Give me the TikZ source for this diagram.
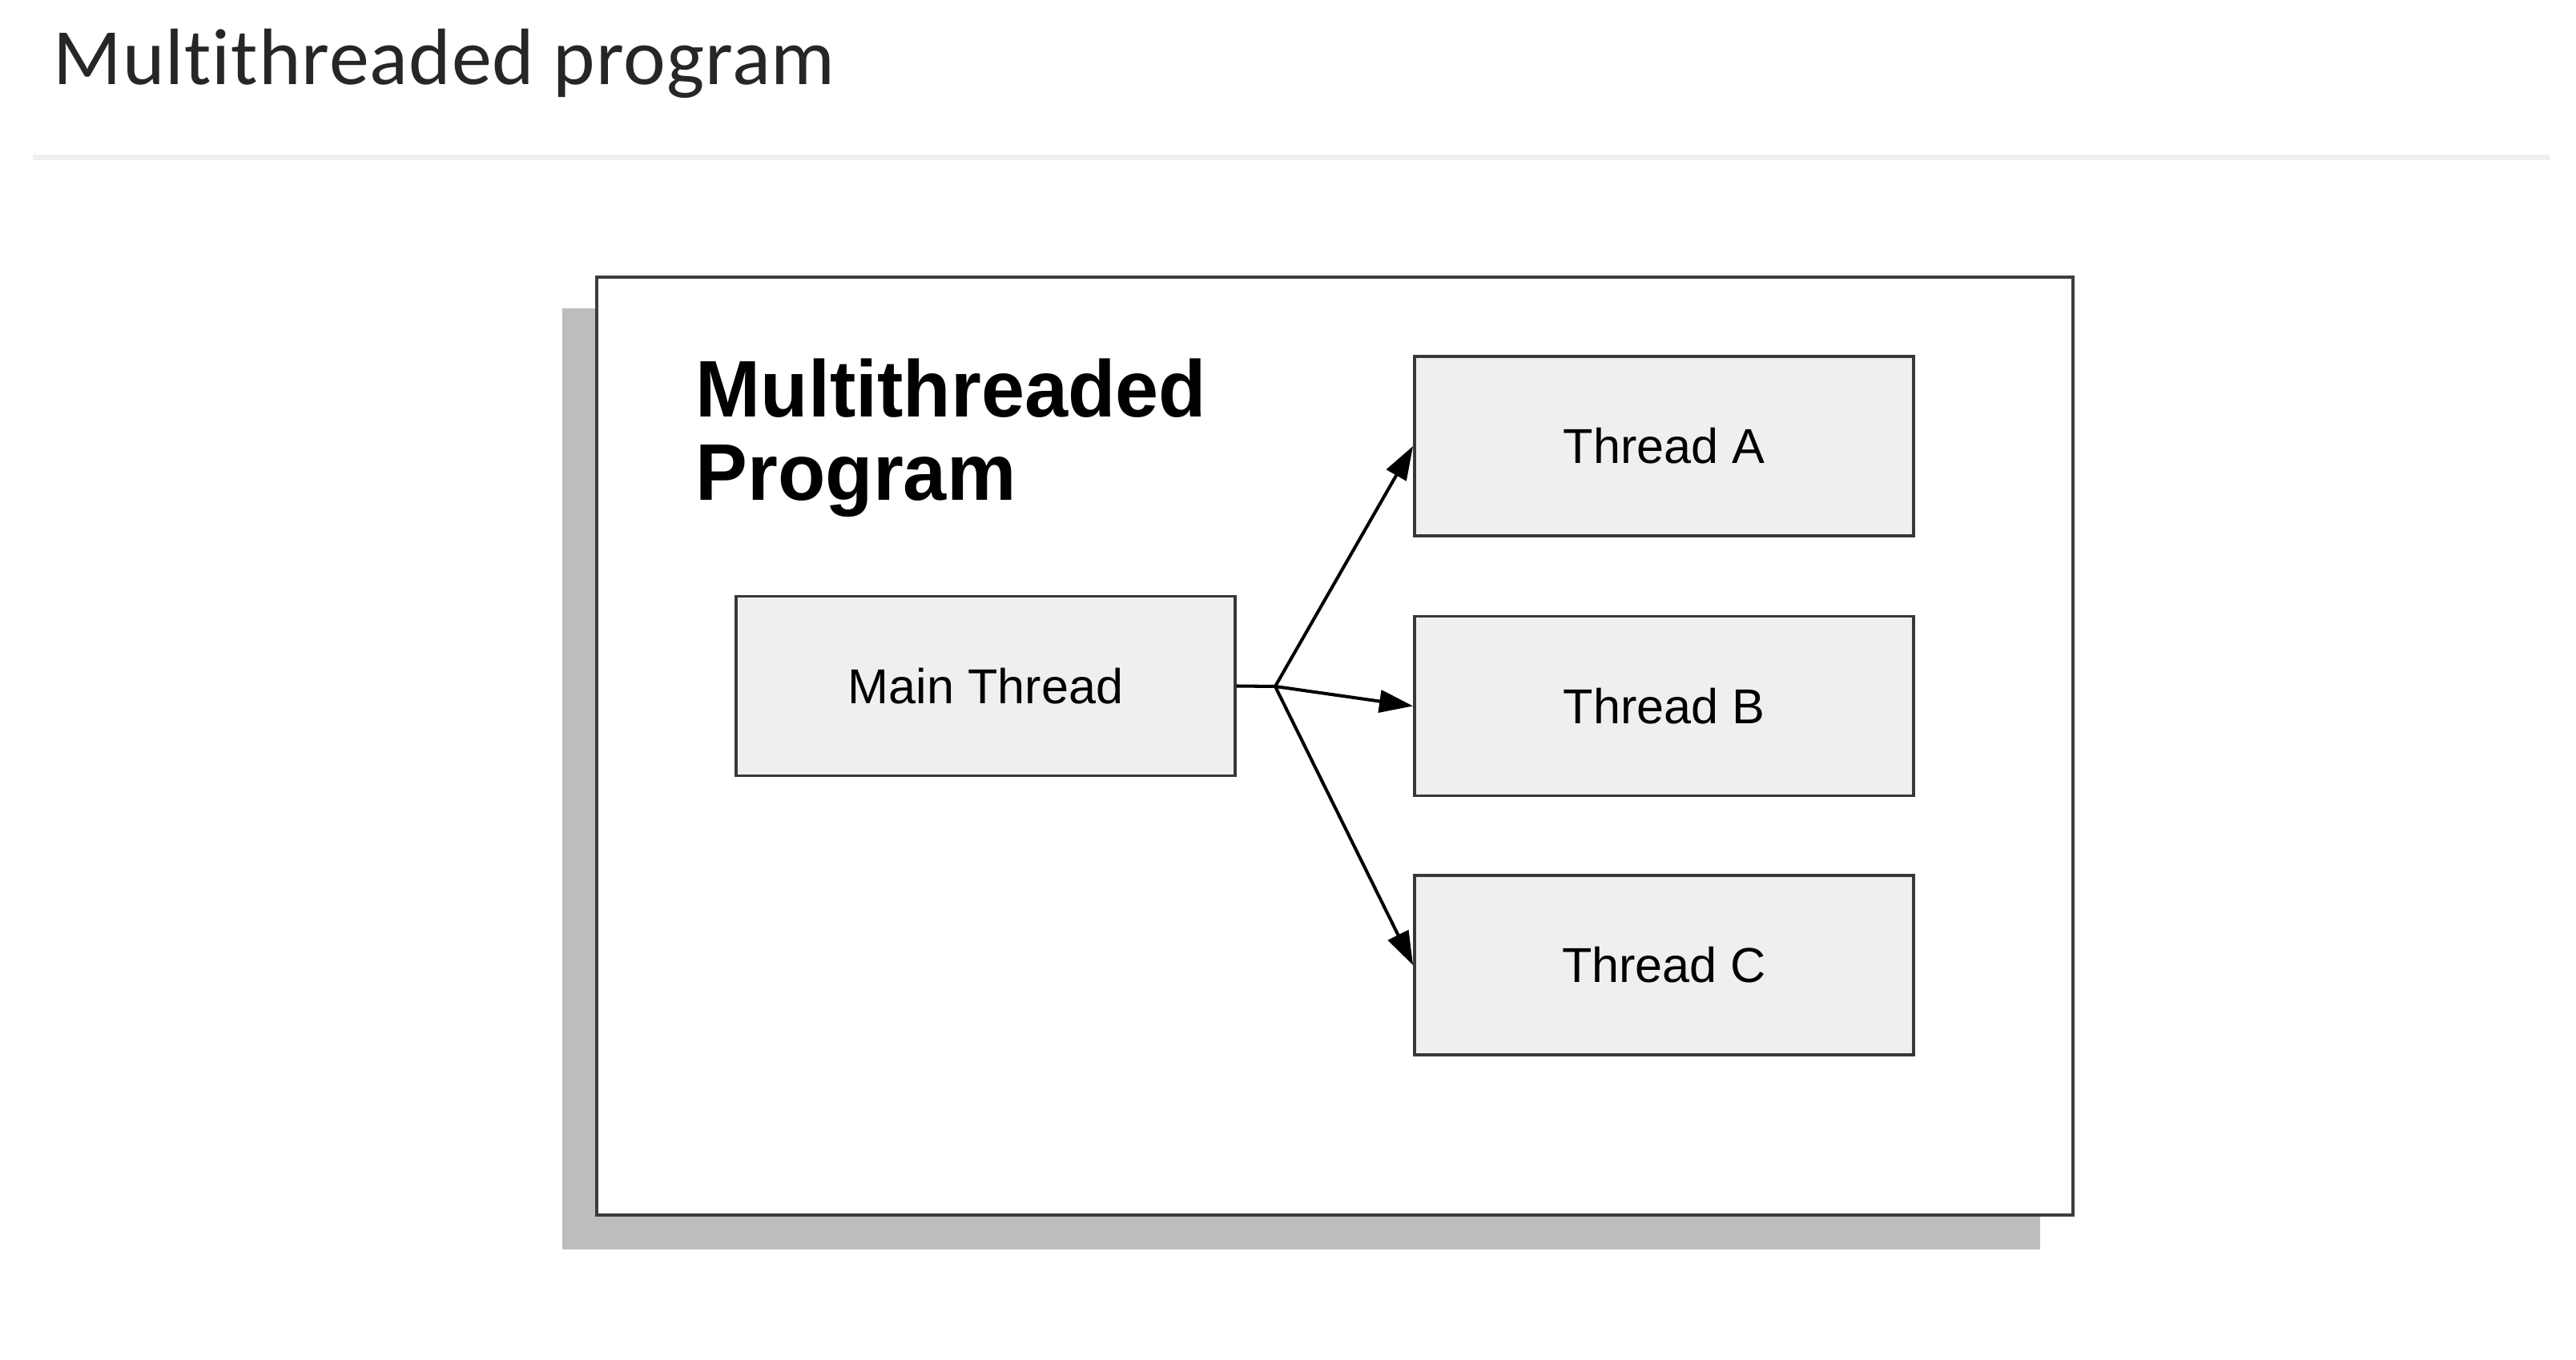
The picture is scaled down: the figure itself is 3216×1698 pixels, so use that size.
\documentclass[tikz,border=0pt]{standalone}
\usepackage{fontspec}
\setmainfont{Liberation Sans}
\newfontfamily\titlefont[Ligatures={NoCommon,NoContextual},LetterSpace=1.0]{Carlito}
\usetikzlibrary{arrows.meta}
\definecolor{boxfill}{HTML}{EFEFEF}
\definecolor{boxline}{HTML}{383838}
\definecolor{frameline}{HTML}{3C3C3C}
\definecolor{shadowgray}{HTML}{BDBDBD}
\definecolor{sepgray}{HTML}{F0F0F0}
\definecolor{titlegray}{HTML}{262626}
\begin{document}
\begin{tikzpicture}[x=0.01cm,y=-0.01cm,
  threadbox/.style={draw=boxline, fill=boxfill, line width=1pt,
    minimum width=6.23cm, minimum height=2.24cm, inner sep=0pt,
    font=\fontsize{17.4pt}{20pt}\selectfont},
  headtext/.style={anchor=base west, inner sep=0pt,
    font=\bfseries\fontsize{28.5pt}{30pt}\selectfont},
  link/.style={line width=1.15pt, black},
  spawn/.style={link, -{Triangle[length=0.42cm,width=0.28cm]}}]
\useasboundingbox (0,0) rectangle (3216,1698);
\fill[white] (0,0) rectangle (3216,1698);
% page title and separator
\node[anchor=base west, inner sep=0pt, text=titlegray,
  font=\titlefont\fontsize{28.4pt}{34pt}\selectfont] (title) at (66,106) {Multithreaded program};
\fill[sepgray] (41,193) rectangle (3183,200);
% frame with shadow
\fill[shadowgray] (702,385) rectangle (2547,1560);
\draw[frameline, fill=white, line width=1.2pt] (745,346) rectangle (2588,1517);
% heading
\node[headtext] (headA) at (868,521) {\scalebox{0.97}[1]{Multithreaded}};
\node[headtext] (headB) at (868,625) {\scalebox{0.97}[1]{Program}};
% threads
\node[threadbox] (main) at (1230.5,856.5) {Main Thread};
\node[threadbox] (ta) at (2077.5,557) {Thread A};
\node[threadbox] (tb) at (2077.5,881.5) {Thread B};
\node[threadbox] (tc) at (2077.5,1205) {Thread C};
\coordinate (junc) at (1592,857);
\draw[link] (main.east) -- (junc);
\draw[spawn] (junc) -- (ta.west);
\draw[spawn] (junc) -- (tb.west);
\draw[spawn] (junc) -- (tc.west);
\end{tikzpicture}
\end{document}
